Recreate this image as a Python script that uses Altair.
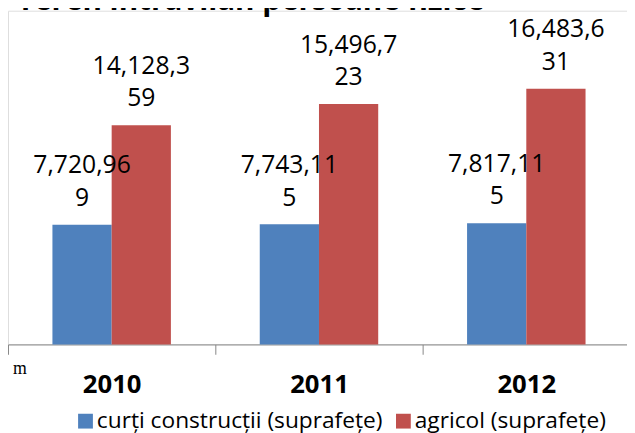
import altair as alt
import pandas as pd

years = ["2010", "2011", "2012"]
series = ["curți construcții (suprafețe)", "agricol (suprafețe)"]
curti = [7720.969, 7743.115, 7817.115]
agricol = [14128.359, 15496.723, 16483.631]
curti_lbl = [["7,720,96", "9"], ["7,743,11", "5"], ["7,817,11", "5"]]
agricol_lbl = [["14,128,3", "59"], ["15,496,7", "23"], ["16,483,6", "31"]]
title_text = "Teren intravilan persoane fizice"
stray_text = "m"
colors = ["#4F81BD", "#C0504D"]

rows = []
for i, yr in enumerate(years):
    rows.append({"year": yr, "serie": series[0], "v": curti[i], "lbl": curti_lbl[i]})
    rows.append({"year": yr, "serie": series[1], "v": agricol[i], "lbl": agricol_lbl[i]})
df = pd.DataFrame(rows)

x = alt.X(
    "year:N",
    sort=years,
    scale=alt.Scale(range=[0, 630], paddingInner=0, paddingOuter=0),
    axis=alt.Axis(
        title=None, labelAngle=0, labelFont="Open Sans", labelFontWeight="bold",
        labelFontSize=26, labelColor="#000000", labelPadding=18, tickSize=10,
        tickBand="extent", domainColor="#868686", tickColor="#868686",
        domainWidth=1, tickWidth=1, grid=False,
    ),
)
xo = alt.XOffset("serie:N", sort=series,
                 scale=alt.Scale(paddingInner=0, paddingOuter=0.75))
y = alt.Y("v:Q", scale=alt.Scale(domain=[0, 21511], nice=False, zero=True), axis=None)
color = alt.Color(
    "serie:N",
    sort=series,
    scale=alt.Scale(domain=series, range=colors),
    legend=alt.Legend(
        title=None, orient="none", legendX=67, legendY=404, direction="horizontal",
        symbolType="square", symbolSize=225, symbolStrokeWidth=0,
        labelFont="Open Sans", labelFontSize=23, labelColor="#000000", labelLimit=500,
        labelOffset=0, columnPadding=9, padding=0,
    ),
)

bars = alt.Chart(df).mark_bar().encode(x=x, xOffset=xo, y=y, color=color)

labels = alt.Chart(df).mark_text(
    baseline="bottom", dy=-47, lineHeight=33, font="Open Sans", fontSize=25, color="#000000"
).encode(x=x, xOffset=xo, y=y, text="lbl:N")

ttl = alt.Chart(pd.DataFrame({"t": [title_text]})).mark_text(
    align="left", baseline="alphabetic", font="Open Sans", fontWeight="bold",
    fontSize=30, color="#000000"
).encode(x=alt.value(9), y=alt.value(-1), text="t:N")

mtxt = alt.Chart(pd.DataFrame({"t": [stray_text]})).mark_text(
    align="left", baseline="alphabetic", font="Liberation Serif", fontSize=18, color="#000000"
).encode(x=alt.value(5), y=alt.value(368), text="t:N")

chart = alt.layer(bars, labels, ttl, mtxt).properties(
    width=627, height=338,
    autosize=alt.AutoSizeParams(type="none"),
    padding={"left": 0, "top": 0, "right": 0, "bottom": 87},
).configure_view(stroke=None).configure(background="white")

chart.save("out.html", embed_options={"renderer": "svg", "actions": False})
